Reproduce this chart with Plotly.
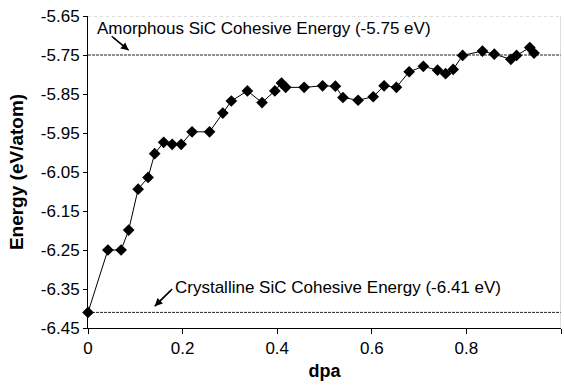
import plotly.graph_objects as go

dpa = [0.0, 0.042, 0.070, 0.086, 0.106, 0.127, 0.141, 0.160, 0.178, 0.197, 0.220,
       0.257, 0.285, 0.303, 0.337, 0.368, 0.395, 0.409, 0.418, 0.457, 0.496, 0.523,
       0.539, 0.571, 0.603, 0.626, 0.652, 0.679, 0.709, 0.739, 0.756, 0.772, 0.792,
       0.834, 0.859, 0.894, 0.906, 0.934, 0.943]
energy = [-6.41, -6.25, -6.25, -6.199, -6.094, -6.064, -6.003, -5.974, -5.979, -5.979, -5.947,
          -5.947, -5.899, -5.868, -5.842, -5.872, -5.842, -5.822, -5.833, -5.833, -5.829, -5.830,
          -5.859, -5.866, -5.857, -5.829, -5.833, -5.793, -5.779, -5.789, -5.798, -5.787, -5.751,
          -5.740, -5.748, -5.761, -5.751, -5.731, -5.745]

amorphous_e = -5.75
crystalline_e = -6.41
y_ticks = [-5.65, -5.75, -5.85, -5.95, -6.05, -6.15, -6.25, -6.35, -6.45]
x_ticks = [0, 0.2, 0.4, 0.6, 0.8, 1]

FONT = "Liberation Sans, Arial, sans-serif"

fig = go.Figure()
for e in [amorphous_e, crystalline_e]:
    fig.add_trace(go.Scatter(x=[0, 1], y=[e, e], mode="lines",
                             line=dict(color="#222222", width=1, dash="3px,1px"),
                             hoverinfo="skip", showlegend=False))
fig.add_trace(go.Scatter(x=dpa, y=energy, mode="lines+markers",
                         line=dict(color="black", width=1),
                         marker=dict(symbol="diamond", size=9, color="black"),
                         cliponaxis=False, showlegend=False))

# frame (top dotted grey, right grey)
fig.add_shape(type="line", xref="x", yref="y", x0=0, x1=1, y0=-5.65, y1=-5.65,
              line=dict(color="#bbbbbb", width=1, dash="dot"))
fig.add_shape(type="line", xref="x", yref="y", x0=1, x1=1, y0=-6.45, y1=-5.65,
              line=dict(color="#bbbbbb", width=1))

arrows = [((0.050, -5.702), (0.086, -5.738)), ((0.178, -6.350), (0.141, -6.394))]
for (tx, ty), (hx, hy) in arrows:
    fig.add_shape(type="line", xref="x", yref="y", x0=tx, y0=ty, x1=hx, y1=hy,
                  line=dict(color="black", width=1.4))
    fig.add_annotation(x=hx, y=hy, ax=tx, ay=ty, xref="x", yref="y",
                       axref="x", ayref="y", text="", showarrow=True, arrowhead=2,
                       arrowsize=1.1, arrowwidth=1.4, arrowcolor="black",
                       standoff=0, startstandoff=0)

fig.add_annotation(x=0.014, y=-5.683, xref="x", yref="y", xanchor="left", yanchor="middle",
                   text="Amorphous SiC Cohesive Energy (-5.75 eV)", showarrow=False,
                   font=dict(family=FONT, size=17, color="black"))
fig.add_annotation(x=0.180, y=-6.346, xref="x", yref="y", xanchor="left", yanchor="middle",
                   text="Crystalline SiC Cohesive Energy (-6.41 eV)", showarrow=False,
                   font=dict(family=FONT, size=17, color="black"))

fig.update_layout(
    width=564, height=390,
    margin=dict(l=88, r=3, t=16, b=62),
    paper_bgcolor="white", plot_bgcolor="white",
    font=dict(family=FONT, size=17, color="black"),
    xaxis=dict(range=[0, 1], tickvals=x_ticks, ticktext=["0", "0.2", "0.4", "0.6", "0.8", "1"],
               showgrid=False, zeroline=False, showline=True, linecolor="black", linewidth=1,
               ticks="outside", ticklen=5, tickcolor="black", tickfont=dict(size=17),
               title=dict(text="<b>dpa</b>", font=dict(size=18), standoff=6)),
    yaxis=dict(range=[-6.45, -5.65], tickvals=y_ticks, ticktext=[f"{v:.2f}" for v in y_ticks],
               showgrid=False, zeroline=False, showline=True, linecolor="black", linewidth=1,
               ticks="outside", ticklen=4, tickcolor="black", tickfont=dict(size=17),
               title=dict(text="<b>Energy (eV/atom)</b>", font=dict(size=19), standoff=12)),
)

fig.write_html("out.html")
